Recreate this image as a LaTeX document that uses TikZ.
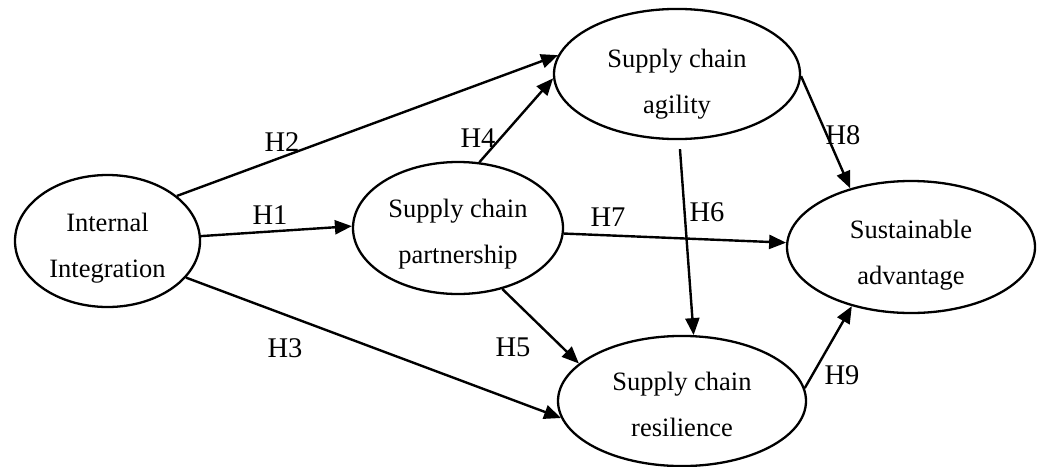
\documentclass[tikz,border=0pt]{standalone}
\usepackage{fontspec}
\setmainfont{Liberation Serif}
\usetikzlibrary{shapes.geometric,arrows.meta}
\newcommand\twolines[3]{\raisebox{-#1}[\height][\depth]{\begin{tabular}{@{}c@{}}#2\\#3\end{tabular}}}
\begin{document}
\begin{tikzpicture}[x=1pt,y=-1pt,
  el/.style={draw, ellipse, line width=2.3pt, inner sep=0pt,
             font=\fontsize{26.5}{46}\selectfont},
  arr/.style={line width=2.4pt, -{Triangle[length=17pt,width=14pt]}},
  lab/.style={font=\fontsize{28.5}{32}\selectfont, inner sep=0pt}]
\useasboundingbox (0,0) rectangle (1040,466);
% nodes
\node[el, minimum width=185pt, minimum height=132pt] (ii) at (107.5,241) {\twolines{4pt}{Internal}{Integration}};
\node[el, minimum width=210pt, minimum height=132pt] (pa) at (458,228) {\twolines{3pt}{Supply chain}{partnership}};
\node[el, minimum width=246pt, minimum height=128pt] (ag) at (677,74) {\twolines{7pt}{Supply chain}{agility}};
\node[el, minimum width=248pt, minimum height=128pt] (re) at (682,401) {\twolines{3pt}{Supply chain}{resilience}};
\node[el, minimum width=248pt, minimum height=132pt] (su) at (911,247) {\twolines{5pt}{Sustainable}{advantage}};
% connectors
\draw[arr] (ii.33) -- (ag.171.5);
\draw[arr] (ii.3.7) -- (pa.179.5);
\draw[arr] (ii.-25.3) -- (re.-172);
\draw[arr] (pa.72.9) -- (ag.-178);
\draw[arr] (pa.-54.6) -- (re.160.9);
\draw[arr] (pa.-3.8) -- (su.178);
\draw[arr, shorten <=9pt] (ag.-88) -- (re.80);
\draw[arr] (ag.-1.9) -- (su.136.9);
\draw[arr] (re.6.1) -- (su.225.5);
% labels
\node[lab] (h1) at (270,215) {H1};
\node[lab] (h2) at (282,142) {H2};
\node[lab] (h3) at (285,348) {H3};
\node[lab] (h4) at (478,138) {H4};
\node[lab] (h5) at (513,347) {H5};
\node[lab] (h6) at (707,212) {H6};
\node[lab] (h7) at (608,217) {H7};
\node[lab] (h8) at (843,135) {H8};
\node[lab] (h9) at (842,375) {H9};
\end{tikzpicture}
\end{document}
